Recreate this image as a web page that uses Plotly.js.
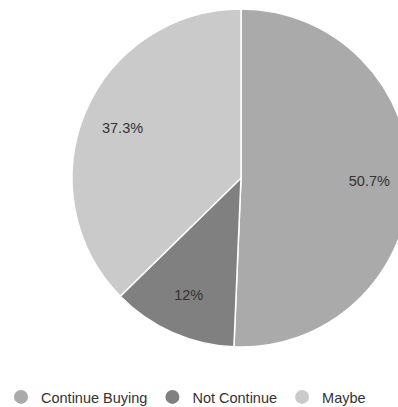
<!DOCTYPE html>
<html>
<head>
<meta charset="utf-8">
<script src="https://cdn.plot.ly/plotly-3.0.1.min.js"></script>
<style>
html,body{margin:0;padding:0;overflow:hidden;background:#fff;}
#chart{width:420px;height:425px;}
</style>
</head>
<body>
<div id="chart"></div>
<script>
const labels = ["Continue Buying", "Not Continue", "Maybe"];
const counts = [38, 9, 28];
const colors = ["#aaaaaa", "#808080", "#cacaca"];

const W = 420, H = 425;
const FONT = "Liberation Sans, Arial, sans-serif";
const dom = {x: [72 / W, 410 / W], y: [(H - 347) / H, (H - 9) / H]};

const data = [
  {
    type: "pie",
    labels: labels,
    values: counts,
    sort: false,
    direction: "clockwise",
    rotation: 0,
    marker: {colors: colors, line: {color: "#ffffff", width: 1.5}},
    textinfo: "none",
    hoverinfo: "label+percent",
    showlegend: false,
    domain: dom
  },
  {
    type: "pie",
    labels: labels,
    values: counts,
    sort: false,
    direction: "clockwise",
    rotation: 0,
    hole: 0.52,
    marker: {colors: labels.map(() => "rgba(0,0,0,0)"), line: {width: 0}},
    textinfo: "percent",
    textposition: "inside",
    insidetextorientation: "horizontal",
    textfont: {family: FONT, size: 14.5, color: "#333333"},
    hoverinfo: "skip",
    showlegend: false,
    domain: dom
  }
];

labels.forEach((name, i) => {
  data.push({
    type: "scatter",
    mode: "markers",
    x: [null],
    y: [null],
    name: name,
    marker: {symbol: "circle", size: 14, color: colors[i]},
    showlegend: true,
    hoverinfo: "skip"
  });
});

const layout = {
  width: W,
  height: H,
  margin: {l: 0, r: 0, t: 0, b: 0},
  paper_bgcolor: "#ffffff",
  plot_bgcolor: "rgba(0,0,0,0)",
  xaxis: {visible: false, domain: [0, 0.01]},
  yaxis: {visible: false, domain: [0, 0.01]},
  showlegend: true,
  legend: {
    orientation: "h",
    x: 186 / W,
    xanchor: "center",
    y: (H - 397) / H,
    yanchor: "middle",
    font: {family: FONT, size: 14.5, color: "#333333"},
    tracegroupgap: 0
  }
};

Plotly.newPlot("chart", data, layout, {displayModeBar: false, staticPlot: true});
</script>
</body>
</html>
